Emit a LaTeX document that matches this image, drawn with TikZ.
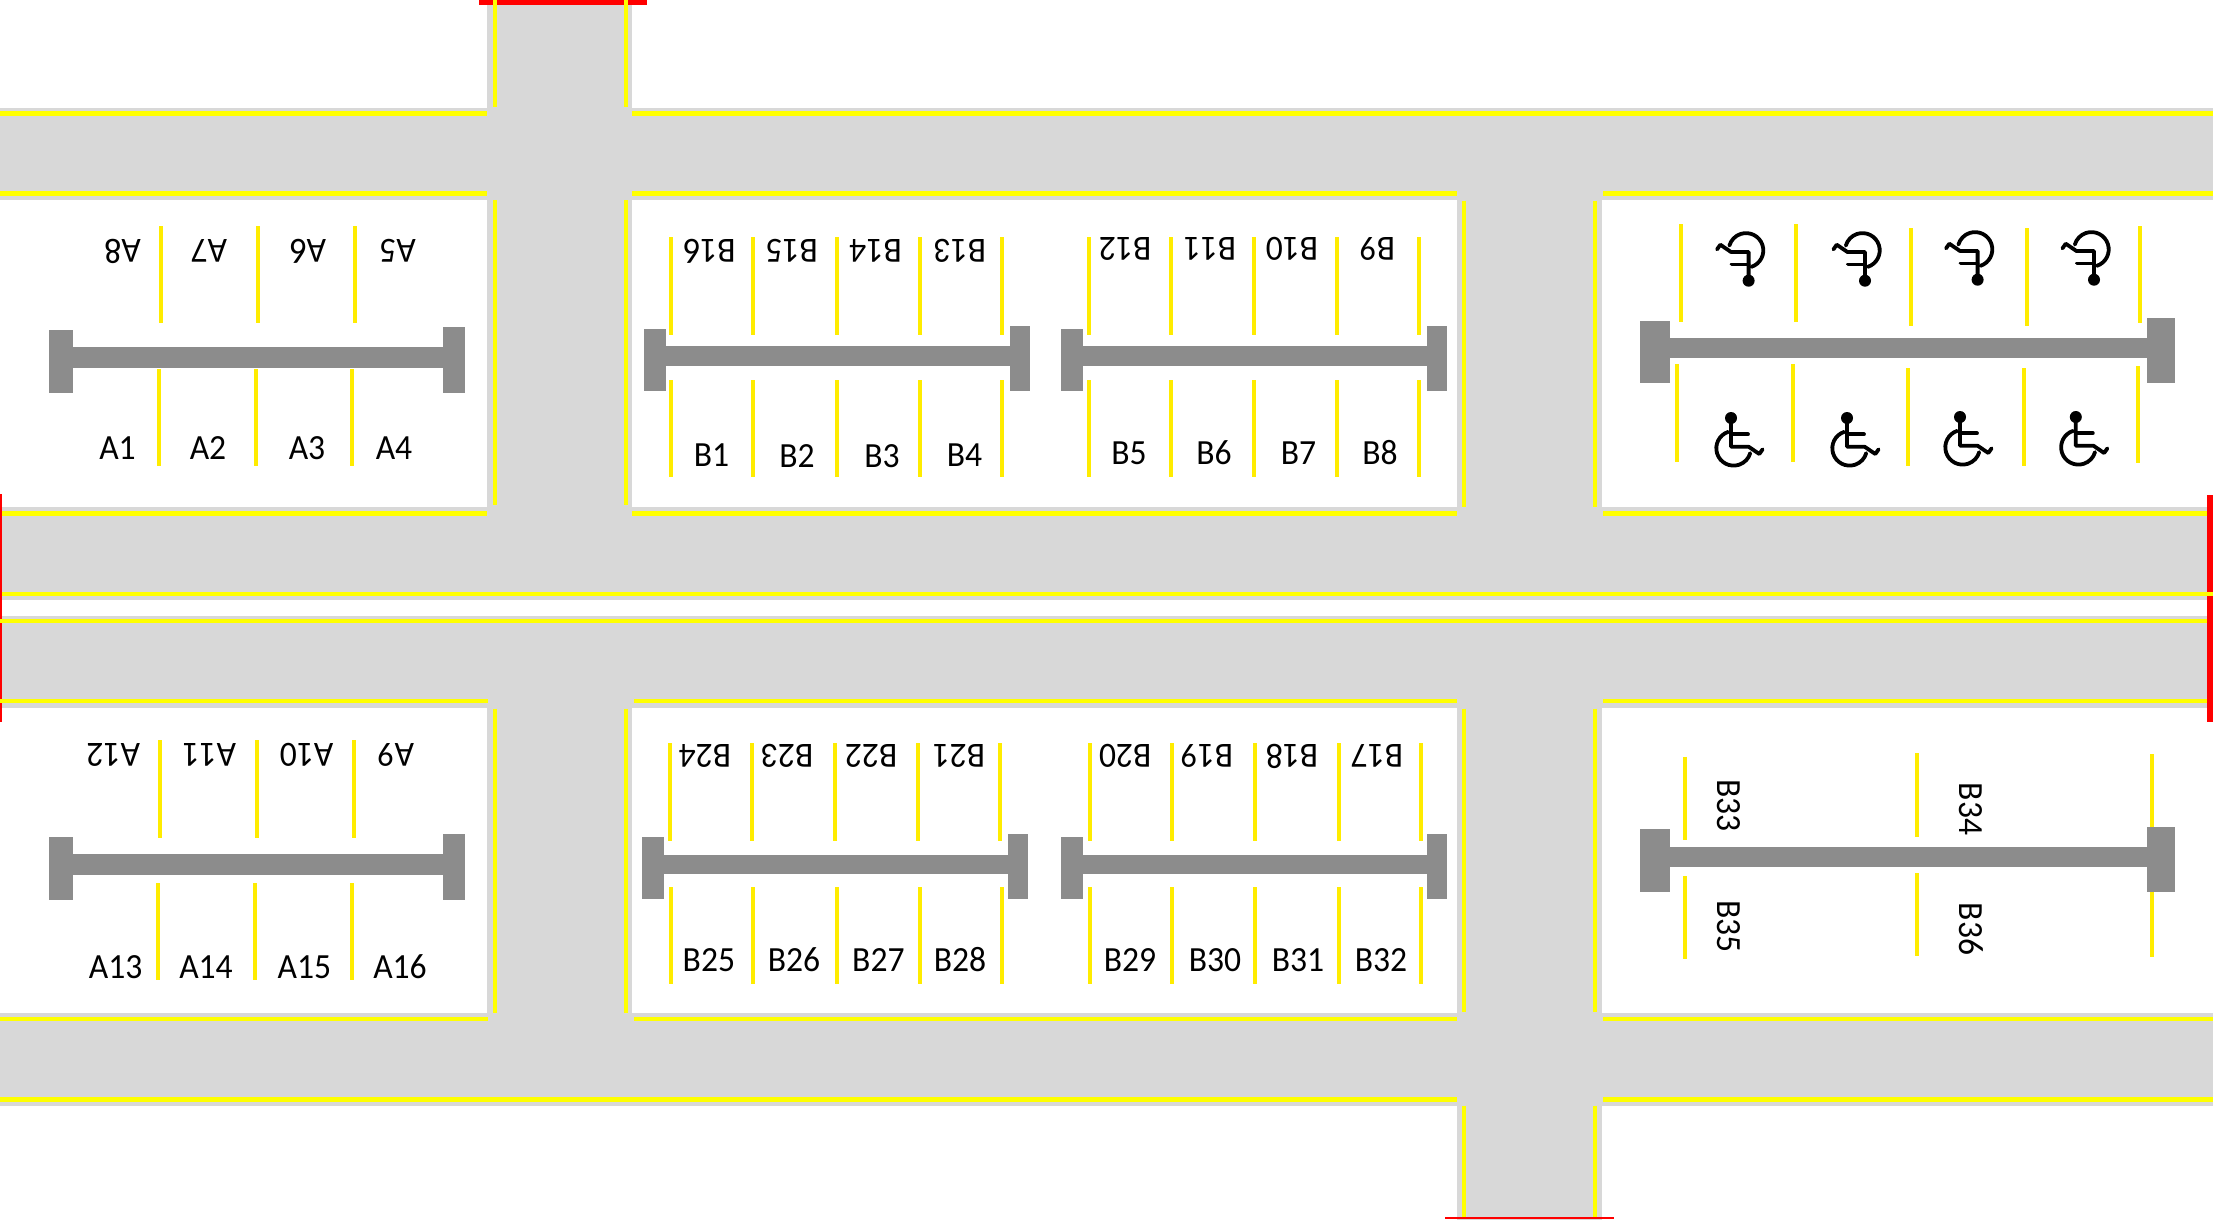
\documentclass[tikz,border=0pt]{standalone}
\usepackage{fontspec}
\setmainfont{Carlito}[FakeStretch=0.95]
\definecolor{roadgray}{HTML}{D8D8D8}
\definecolor{bargray}{HTML}{8C8C8C}
\definecolor{lineyellow}{HTML}{FFFF00}
\definecolor{divyellow}{HTML}{FFEC00}
\definecolor{gatered}{HTML}{FF0000}
\tikzset{
  roadline/.style={draw=lineyellow,line width=4.9bp},
  divider/.style={draw=divyellow,line width=4bp},
  barfill/.style={fill=bargray},
  lbl/.style={font=\fontsize{35.5}{36}\selectfont,inner sep=0pt,text height=22.8bp,text depth=0pt,anchor=center},
  chair/.pic={
    \fill[black] (0,0) circle[radius=6bp];
    \draw[black,line width=3.8bp,line cap=round,line join=round]
      (0,0) -- (0,28.7) -- (17.6,28.7) -- (28.3,36) -- (31.6,31.3);
    \draw[black,line width=3.8bp,line cap=round] (0,16.3) -- (17,16.3);
    \draw[black,line width=3.8bp,line cap=round]
      (-2.75,13.85) arc[start angle=108,end angle=344,radius=17.3bp];
  }
}
\begin{document}
\begin{tikzpicture}[x=1bp,y=-1bp]
\useasboundingbox (0,0) rectangle (2213,1220);
\fill[white] (0,0) rectangle (2213,1220);
% roads
\foreach \xa/\ya/\xb/\yb in {
  0/108/2213/200, 0/507/2213/600, 0/615.7/2213/708, 0/1012.7/2213/1105.7,
  487/0/632/1012.7, 1457.3/200/1602.3/1220}
  \fill[roadgray] (\xa,\ya) rectangle (\xb,\yb);
\fill[white] (0,600) rectangle (2213,615.7);
% gates
\fill[gatered] (479,0) rectangle (647,5.3);
\fill[gatered] (0,494) rectangle (2.3,721.6);
\fill[gatered] (2207,495) rectangle (2213,721.7);
\fill[gatered] (1445,1216.7) rectangle (1614,1219);
% horizontal road lines
\foreach \y/\xa/\xb in {
  113.7/0/487, 113.7/632/2213,
  193.7/0/487, 193.7/632/1457, 193.7/1603/2213,
  513.5/2.3/487, 513.5/632/1457, 513.5/1603/2207,
  594/2.3/2213,
  621/0/2207,
  701/0/488, 701/634/1457, 701/1603/2207,
  1019/0/488, 1019/634/1457, 1019/1603/2213,
  1099.3/0/1457, 1099.3/1603/2213}
  \draw[roadline] (\xa,\y) -- (\xb,\y);
% vertical road lines
\foreach \x/\ya/\yb in {
  495/0/107, 495/200/505, 495/708.6/1012.6,
  626/0/107, 626/200/505, 626/708.6/1012.6,
  1464/200.7/507, 1464/708.6/1012, 1464/1105.7/1216.7,
  1595/200.7/507, 1595/708.6/1012, 1595/1105.7/1216.7}
  \draw[roadline] (\x,\ya) -- (\x,\yb);
% bay dividers
\foreach \x in {161,258,355} \draw[divider] (\x,226) -- (\x,323);
\foreach \x in {159,256,352} \draw[divider] (\x,369) -- (\x,466);
\foreach \x in {160.2,257,354} \draw[divider] (\x,740.4) -- (\x,837.5);
\foreach \x in {158.4,255.3,351.7} \draw[divider] (\x,883.3) -- (\x,980);
\foreach \x in {671,753.3,836.7,920,1002.3,1088.5,1170.7,1253.6,1337,1419.2}{
  \draw[divider] (\x,237.3) -- (\x,335);
  \draw[divider] (\x,380.3) -- (\x,477.3);
}
\foreach \x in {670,752.2,835,918.4,1000,1090,1172.4,1255.2,1338.6,1421}
  \draw[divider] (\x,743.3) -- (\x,841);
\foreach \x in {671,753.3,836.7,920,1002.3,1090,1172.4,1255.2,1338.6,1421}
  \draw[divider] (\x,887) -- (\x,983.7);
\foreach \x/\ya/\yb in {
  1680.5/224/321.7, 1795.5/224/321.7, 1911.2/228.3/325.7, 2026.9/228.3/325.7, 2140.3/226/323.3,
  1677.4/364.3/461.7, 1793/364.3/461.7, 1908.4/368.3/465.7, 2024.2/368.3/465.7, 2137.5/366/463.3,
  1685.2/756.7/840.3, 1685.2/876.3/959.3,
  1917.4/753.3/837, 1917.4/873/956,
  2152/754/838, 2152/875/956.7}
  \draw[divider] (\x,\ya) -- (\x,\yb);
% islands: left cap x1 x2, right cap x1 x2, top of left cap, top of right cap, bottom, bar top, bar bottom
\foreach \la/\lb/\ra/\rb/\lt/\rt/\bt/\ba/\bb in {
  49/72.5/443/465/330/327.3/392.7/347.3/367.7,
  643.6/665.5/1009.5/1030.3/329/326/391/346/366,
  1060.5/1083/1427/1447/329/326/391/346/366,
  1640.3/1670.4/2147.3/2175/321/318/383.3/338.3/358.3,
  49/72.5/443/465/837/834.3/899.6/854.3/874.7,
  642/664/1007.8/1028/837/834.3/899.3/854.7/874.3,
  1060.5/1083/1427/1447/837/834.3/899.3/854.7/874.3,
  1640.3/1670.4/2147.3/2175/829.3/826.7/891.7/846.7/866.7}{
  \fill[barfill] (\la,\lt) rectangle (\lb,\bt);
  \fill[barfill] (\ra,\rt) rectangle (\rb,\bt);
  \fill[barfill] (\lb,\ba) rectangle (\ra,\bb);
}
% upright labels
\foreach \t/\x/\y in {
  A1/117.5/448.5, A2/208/448.5, A3/307/448.5, A4/394/448.5,
  A13/115.7/967, A14/206/967, A15/304.4/967, A16/400/967,
  B1/711.5/455.5, B2/797/456.5, B3/882/455.8, B4/964.5/455.5,
  B5/1129/453, B6/1214/453, B7/1298.5/453, B8/1380/453,
  B25/708.9/959.8, B26/794/959.8, B27/878.4/959.8, B28/960/959.8,
  B29/1130/959.8, B30/1215/959.8, B31/1298/959.8, B32/1381/959.8}
  \node[lbl] (n\t) at (\x,\y) {\t};
% labels turned upside down
\foreach \t/\x/\y in {
  A8/122.6/250.7, A7/209/250.7, A6/308/250.7, A5/397.6/250.7,
  A12/113.4/754.8, A11/209.4/754.8, A10/306.7/754.8, A9/395.8/754.8,
  B16/709.4/250.7, B15/791.7/250.7, B14/875.6/250.7, B13/960/250.7,
  B12/1125.2/248.8, B11/1210/248.8, B10/1292/248.8, B9/1377.5/248.8,
  B24/705/755.5, B23/787.3/755.5, B22/871.2/755.5, B21/959/755.5,
  B20/1125.2/755.5, B19/1207/755.5, B18/1292/755.5, B17/1377/755.5}
  \node[lbl,rotate=180] (n\t) at (\x,\y) {\t};
% labels turned a quarter
\foreach \t/\x/\y in {
  B33/1728.5/805.7, B34/1970.5/809, B35/1728.5/926.7, B36/1970.5/929}
  \node[lbl,rotate=-90] (n\t) at (\x,\y) {\t};
% accessible bays
\foreach \x/\y in {1731/418, 1847/418, 1960/417, 2075.8/417}
  \pic at (\x,\y) {chair};
\foreach \x/\y in {1748.6/280.7, 1865/280.7, 1977.6/279.7, 2094/279.7}
  \pic[rotate=180] at (\x,\y) {chair};
\end{tikzpicture}
\end{document}
